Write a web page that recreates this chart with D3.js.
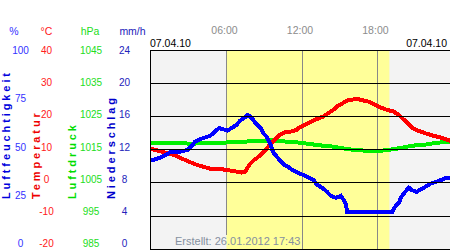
<!DOCTYPE html>
<html><head><meta charset="utf-8">
<script src="https://cdn.jsdelivr.net/npm/d3@7"></script>
<style>body{margin:0;background:#fff}svg{display:block;font-family:"Liberation Sans",Arial,sans-serif}</style>
</head><body><svg id="c" width="450" height="250"></svg>
<script>
// ---- data ----
const humTimes  = [0.0,0.2,0.8,1.5,2.2,2.9,3.2,3.5,4.0,4.7,5.1,5.4,6.1,6.8,7.1,7.5,7.7,8.0,8.3,8.7,8.9,9.2,9.5,9.7,10.0,10.3,10.6,10.9,11.2,11.7,12.4,12.9,13.2,13.6,14.0,14.3,14.7,15.1,15.3,15.5,15.6,19.2,19.4,19.7,19.9,20.2,20.5,20.7,21.1,21.7,22.2,22.7,23.1,23.5,23.8];
const humValues = [44.7,44.7,45.9,48.4,48.7,49.7,51.4,53.9,55.3,56.8,58.9,60.7,59.4,62.3,64.5,66.2,67.3,65.8,63.3,60.8,58.3,56.3,52.3,48.7,46.2,44.2,42.2,41.2,39.7,38.2,36.2,34.7,32.2,30.7,28.6,26.6,25.6,26.6,24.6,22.1,18.6,18.6,21.1,23.1,26.1,28.6,30.7,29.6,28.6,30.7,32.7,33.7,34.7,35.7,35.7];
const tempTimes  = [0.0,0.56,1.09,1.61,2.01,2.41,2.81,3.2,3.73,4.27,4.67,5.06,5.59,6.12,6.65,7.18,7.45,7.66,7.87,8.13,8.4,8.8,9.06,9.32,9.59,9.99,10.25,10.65,11.18,11.58,11.84,12.24,12.64,13.17,13.7,14.09,14.49,14.89,15.16,15.58,16.35,17.27,17.81,18.2,18.74,19.26,19.71,20.11,20.51,20.91,21.38,21.92,22.44,22.97,23.51,23.8];
const tempValues = [10.1,9.6,9.0,8.6,8.0,7.3,6.6,6.0,5.2,4.6,4.2,4.2,4.0,3.7,3.4,3.0,3.1,4.3,5.6,6.6,7.3,8.6,9.6,10.8,12.0,13.4,14.4,15.1,15.4,15.9,16.7,17.4,18.2,19.1,19.9,20.9,21.9,23.2,23.7,24.7,25.2,24.4,23.4,22.7,21.9,21.4,20.4,18.9,17.4,16.1,15.4,14.7,14.1,13.6,12.9,12.6];
const presTimes  = [0,1.5,3.1,5.1,6.3,7.9,9.7,10.5,11.6,12.4,13.4,14.5,15.7,17.0,18.2,19.4,20.8,21.8,22.6,23.4,23.8];
const presValues = [1017.0,1017.0,1016.7,1016.9,1017.1,1017.4,1017.7,1017.4,1017.1,1016.7,1016.2,1015.8,1015.0,1014.6,1014.5,1015.1,1016.1,1016.4,1016.9,1017.2,1017.3];

const humTicks  = [100,75,50,25,0];
const tempTicks = [40,30,20,10,0,-10,-20];
const presTicks = [1045,1035,1025,1015,1005,995,985];
const precTicks = [24,20,16,12,8,4,0];
const hourTicks = [6,12,18];
const hourLabels = ["06:00","12:00","18:00"];
const dateLabel = "07.04.10";
const daylight = [6.0, 18.95];
const createdText = "Erstellt: 26.01.2012 17:43";

// ---- scales ----
const svg = d3.select("#c");
const x = d3.scaleLinear().domain([0,24]).range([151,452.9]);
const yR = [248.8,49.8];
const yHum = d3.scaleLinear().domain([0,100]).range(yR);
const yTemp = d3.scaleLinear().domain([-20,40]).range(yR);
const yPres = d3.scaleLinear().domain([985,1045]).range(yR);
const labR = [243.8,50.3];
const lHum = d3.scaleLinear().domain([0,100]).range(labR);
const lTemp = d3.scaleLinear().domain([-20,40]).range(labR);
const lPres = d3.scaleLinear().domain([985,1045]).range(labR);
const lPrec = d3.scaleLinear().domain([0,24]).range(labR);

const pL = 150, pR = 450, pT = 50, pB = 249;

// backgrounds
function drawBg(g){
  g.append("rect").attr("x",pL).attr("y",pT).attr("width",pR-pL).attr("height",pB-pT).attr("fill","#f3f3f3");
  g.append("rect").attr("x",x(daylight[0])).attr("y",pT).attr("width",x(daylight[1])-x(daylight[0])).attr("height",pB-pT).attr("fill","#ffff99");
}
drawBg(svg.append("g"));

// vertical hour lines
svg.append("g").selectAll("line").data(hourTicks).join("line")
  .attr("x1",d=>Math.round(x(d))+0.5).attr("x2",d=>Math.round(x(d))+0.5)
  .attr("y1",pT).attr("y2",pB).attr("stroke","#888").attr("stroke-width",1);

// created text (with background cut-out)
const ct = svg.append("text").attr("x",175).attr("y",245).attr("font-size","11px")
  .attr("fill","#8590a0").text(createdText);
const bb = ct.node().getBBox();
svg.append("clipPath").attr("id","tc").append("rect")
  .attr("x",bb.x-1).attr("y",235).attr("width",bb.width+2).attr("height",pB-235);
drawBg(svg.append("g").attr("clip-path","url(#tc)"));
ct.raise();

// data lines
const line = (ts, ys) => d3.line().x((d,i)=>x(ts[i])).y(d=>ys(d));
function drawSeries(times, vals, scale, color){
  svg.append("path").datum(vals).attr("d", line(times, scale))
    .attr("fill","none").attr("stroke",color).attr("stroke-width",4)
    .attr("stroke-linejoin","miter").attr("shape-rendering","crispEdges");
}
drawSeries(presTimes, presValues, yPres, "#00f000");
drawSeries(tempTimes, tempValues, yTemp, "#ff0000");
drawSeries(humTimes, humValues, yHum, "#0000ff");

// horizontal grid lines
svg.append("g").selectAll("line").data(d3.range(7)).join("line")
  .attr("x1",pL).attr("x2",pR)
  .attr("y1",d=>Math.round(yTemp(-20+10*d))+0.5).attr("y2",d=>Math.round(yTemp(-20+10*d))+0.5)
  .attr("stroke","#000").attr("stroke-width",1);
svg.append("line").attr("x1",pL+0.5).attr("x2",pL+0.5).attr("y1",pT).attr("y2",pB+1)
  .attr("stroke","#000");

// top labels
svg.append("g").selectAll("text").data(hourTicks).join("text")
  .attr("x",d=>x(d)-2).attr("y",34).attr("text-anchor","middle").attr("font-size","10.5px")
  .attr("fill","#8c8c8c").text((d,i)=>hourLabels[i]);
svg.append("text").attr("x",150).attr("y",47).attr("font-size","10.5px").attr("fill","#000").text(dateLabel);
svg.append("text").attr("x",447).attr("y",47).attr("text-anchor","end").attr("font-size","10.5px").attr("fill","#000").text(dateLabel);

// unit labels
const units = [["%",14,"#3333ff"],["°C",46.5,"#ff2020"],["hPa",90,"#22dd22"],["mm/h",132.5,"#2222bb"]];
svg.append("g").selectAll("text").data(units).join("text")
  .attr("x",d=>d[1]).attr("y",34.5).attr("text-anchor","middle").attr("font-size","10.5px")
  .attr("fill",d=>d[2]).text(d=>d[0]);

// tick labels
function tickCol(ticks, scale, cx, color){
  svg.append("g").selectAll("text").data(ticks).join("text")
    .attr("x",cx).attr("y",d=>scale(d)).attr("dy","0.36em").attr("text-anchor","middle")
    .attr("font-size","10px").attr("fill",color).text(d=>d);
}
tickCol(humTicks, lHum, 20.5, "#3333ff");
tickCol(tempTicks, lTemp, 46.5, "#ff2020");
tickCol(presTicks, lPres, 91, "#22dd22");
tickCol(precTicks, lPrec, 124.5, "#2222bb");

// rotated titles
const titles = [["Luftfeuchtigkeit",10,"#0000dd"],["Temperatur",39.5,"#ee0000"],["Luftdruck",76,"#00dd00"],["Niederschlag",114.5,"#0000cc"]];
svg.append("g").selectAll("text").data(titles).join("text")
  .attr("transform",d=>`translate(${d[1]},199) rotate(-90)`)
  .attr("font-size","11px").attr("font-weight","bold").attr("letter-spacing","2.9px")
  .attr("fill",d=>d[2]).text(d=>d[0]);
</script></body></html>
